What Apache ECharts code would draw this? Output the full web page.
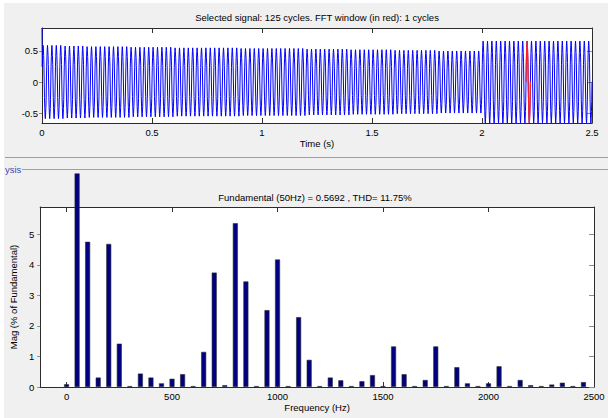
<!DOCTYPE html>
<html>
<head>
<meta charset="utf-8">
<script src="https://cdn.jsdelivr.net/npm/echarts@6/dist/echarts.min.js"></script>
<style>
html, body { margin: 0; padding: 0; background: #f0f0f0; }
#chart { width: 608px; height: 418px; }
</style>
</head>
<body>
<div id="chart"></div>
<script>
// spectrum: harmonic frequency (Hz) and magnitude (% of fundamental)
var freqs = [0, 50, 100, 150, 200, 250, 300, 350, 400, 450,
  500, 550, 600, 650, 700, 750, 800, 850, 900, 950,
  1000, 1050, 1100, 1150, 1200, 1250, 1300, 1350, 1400, 1450,
  1500, 1550, 1600, 1650, 1700, 1750, 1800, 1850, 1900, 1950,
  2000, 2050, 2100, 2150, 2200, 2250, 2300, 2350, 2400, 2450];
var mags = [0.09, 7.0, 4.76, 0.31, 4.69, 1.42, 0.03, 0.44, 0.31, 0.12,
  0.27, 0.42, 0.03, 1.15, 3.75, 0.06, 5.37, 3.46, 0.03, 2.52,
  4.18, 0.03, 2.29, 0.89, 0.03, 0.31, 0.22, 0.03, 0.19, 0.39,
  0.03, 1.33, 0.42, 0.03, 0.23, 1.33, 0.03, 0.65, 0.12, 0.03,
  0.12, 0.68, 0.03, 0.23, 0.06, 0.03, 0.08, 0.14, 0.03, 0.16];

// time signal: one 50 Hz cycle (normalised) and the peak seen in each 0.1 s block
var cycleShape = [0, 0.42, 0.70, 0.90, 1.0, 0.90, 0.72, 0.48,
  0, -0.42, -0.70, -0.90, -1.0, -0.90, -0.72, -0.48];
var blockPeaks = [0.59, 0.58, 0.57, 0.57, 0.56, 0.56, 0.55, 0.55, 0.55, 0.54,
  0.54, 0.54, 0.53, 0.53, 0.52, 0.52, 0.51, 0.51, 0.50, 0.50,
  0.66, 0.66, 0.66, 0.66, 0.66];
var startSpike = 0.87;
var fftWindow = [2.2, 2.22];

// tick labels
var timeTicks = [0, 0.5, 1, 1.5, 2, 2.5];
var sigTicks = [-0.5, 0, 0.5];
var freqTicks = [0, 500, 1000, 1500, 2000, 2500];
var magTicks = [0, 1, 2, 3, 4, 5];

var f0 = 50;
var cyclesPerBlock = 5;
var perCycle = cycleShape.length;
var signal = [];
for (var c = 0; c < blockPeaks.length * cyclesPerBlock; c++) {
  var amp = blockPeaks[Math.floor(c / cyclesPerBlock)];
  for (var k = 0; k < perCycle; k++) {
    var t = +((c * perCycle + k) / (perCycle * f0)).toFixed(6);
    signal.push([t, cycleShape[k] * amp]);
  }
}
signal[0][1] = startSpike;
signal.push([2.5, 0]);

var windowPts = signal.filter(function (p) {
  return p[0] >= fftWindow[0] - 1e-9 && p[0] <= fftWindow[1] + 1e-9;
});

var bars = freqs.map(function (f, i) { return [f, mags[i]]; });

var FONT = 'Liberation Sans';
var FS = 9.5;

function boxAxis(gridIndex, pos, min, max, ticks, showLabel, tickInside, tickColor, tickLen) {
  return {
    type: 'value',
    gridIndex: gridIndex,
    position: pos,
    min: min,
    max: max,
    splitLine: { show: false },
    axisLine: { show: true, onZero: false, lineStyle: { color: '#2b2b2b', width: 1 } },
    axisTick: {
      show: true, inside: tickInside, length: tickLen, customValues: ticks,
      lineStyle: { color: tickColor, width: 1 }
    },
    axisLabel: {
      show: showLabel, customValues: ticks, margin: 4,
      fontFamily: FONT, fontSize: FS, color: '#000',
      formatter: function (v) { return String(v); }
    }
  };
}

var chart = echarts.init(document.getElementById('chart'), null, { renderer: 'svg' });

var xTop1 = boxAxis(0, 'bottom', 0, 2.5, timeTicks, true, true, '#333', 5);
xTop1.name = 'Time (s)';
xTop1.nameLocation = 'middle';
xTop1.nameGap = 15;
xTop1.nameTextStyle = { fontFamily: FONT, fontSize: FS, color: '#000' };

var xBot1 = boxAxis(1, 'bottom', -125, 2500, freqTicks, true, true, '#333', 5);
xBot1.name = 'Frequency (Hz)';
xBot1.nameLocation = 'middle';
xBot1.nameGap = 15;
xBot1.nameTextStyle = { fontFamily: FONT, fontSize: FS, color: '#000' };

var yBot1 = boxAxis(1, 'left', 0, 5.9, magTicks, true, false, '#8c8c8c', 3);
yBot1.name = 'Mag (% of Fundamental)';
yBot1.nameLocation = 'middle';
yBot1.nameGap = 14;
yBot1.nameTextStyle = { fontFamily: FONT, fontSize: FS, color: '#000' };
yBot1.axisLabel.margin = 6;

var yTop1 = boxAxis(0, 'left', -0.66, 0.87, sigTicks, true, false, '#8c8c8c', 3);
yTop1.axisLabel.margin = 4;

var option = {
  animation: false,
  backgroundColor: '#f0f0f0',
  grid: [
    { left: 42, top: 28, width: 550, height: 95, show: true, backgroundColor: '#fff', borderWidth: 0 },
    { left: 39, top: 207, width: 555, height: 180, show: true, backgroundColor: '#fff', borderWidth: 0 }
  ],
  xAxis: [
    xTop1,
    boxAxis(0, 'top', 0, 2.5, timeTicks, false, true, '#333', 5),
    xBot1,
    boxAxis(1, 'top', -125, 2500, freqTicks, false, true, '#333', 5)
  ],
  yAxis: [
    yTop1,
    boxAxis(0, 'right', -0.66, 0.87, sigTicks, false, true, '#8c8c8c', 5),
    yBot1,
    boxAxis(1, 'right', 0, 5.9, magTicks, false, true, '#8c8c8c', 5)
  ],
  graphic: [
    { type: 'rect', shape: { x: 0, y: 0, width: 4, height: 418 }, style: { fill: '#fff' } },
    { type: 'rect', shape: { x: 0, y: 0, width: 608, height: 3 }, style: { fill: '#fff' } },
    { type: 'line', shape: { x1: 5, y1: 157.5, x2: 608, y2: 157.5 }, style: { stroke: '#a0a0a0', lineWidth: 1 } },
    { type: 'line', shape: { x1: 22, y1: 169.5, x2: 608, y2: 169.5 }, style: { stroke: '#a0a0a0', lineWidth: 1 } },
    {
      type: 'text', x: 5, y: 169,
      style: { text: 'ysis', fill: '#4646b4', fontFamily: FONT, fontSize: FS, textAlign: 'left', verticalAlign: 'middle', textVerticalAlign: 'middle' }
    },
    {
      type: 'text', x: 317, y: 17,
      style: { text: 'Selected signal: 125 cycles. FFT window (in red): 1 cycles', fill: '#000', fontFamily: FONT, fontSize: FS, textAlign: 'center', verticalAlign: 'middle', textVerticalAlign: 'middle' }
    },
    {
      type: 'text', x: 315, y: 197,
      style: { text: 'Fundamental (50Hz) = 0.5692 , THD= 11.75%', fill: '#000', fontFamily: FONT, fontSize: FS, textAlign: 'center', verticalAlign: 'middle', textVerticalAlign: 'middle' }
    }
  ],
  series: [
    {
      type: 'line', xAxisIndex: 0, yAxisIndex: 0, data: signal,
      showSymbol: false, symbol: 'none', sampling: null, silent: true,
      lineStyle: { color: '#0000ff', width: 1 }
    },
    {
      type: 'line', xAxisIndex: 0, yAxisIndex: 0, data: windowPts, z: 3,
      showSymbol: false, symbol: 'none', silent: true,
      lineStyle: { color: '#ff2020', width: 1.2 }
    },
    {
      type: 'bar', xAxisIndex: 2, yAxisIndex: 2, data: bars,
      barWidth: 5, clip: false, silent: true,
      itemStyle: { color: '#000080', borderColor: '#303030', borderWidth: 0.6 }
    }
  ]
};

chart.setOption(option);
</script>
</body>
</html>
